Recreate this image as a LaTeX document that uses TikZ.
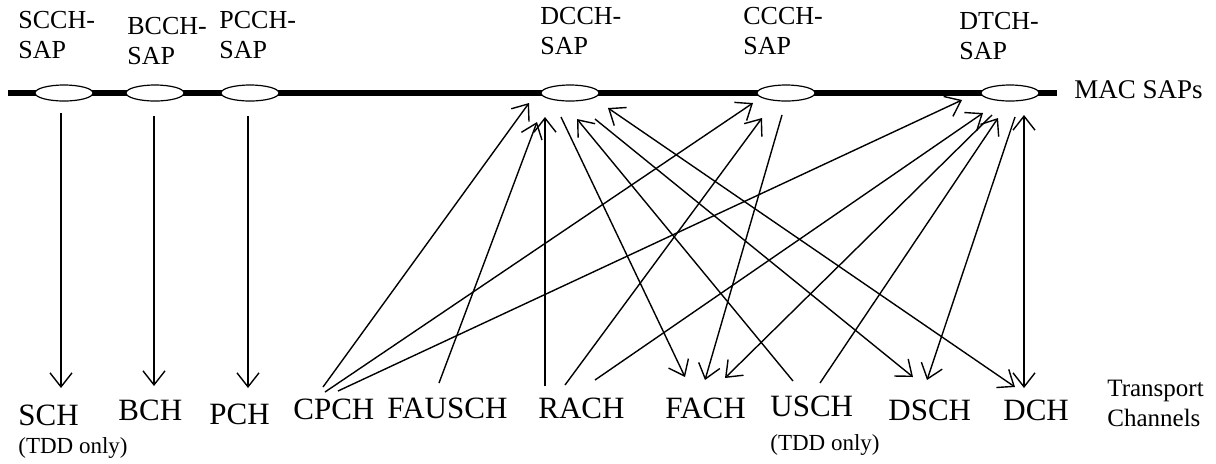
\documentclass[tikz,border=0pt]{standalone}
\usepackage{fontspec}
\setmainfont{Liberation Serif}
\usetikzlibrary{arrows.meta,shapes.geometric}
\begin{document}
\begin{tikzpicture}[x=0.5pt,y=-0.5pt,
  sap/.style={ellipse, draw, fill=white, line width=0.6pt, minimum width=29pt, minimum height=8pt, inner sep=0pt},
  conn/.style={line width=0.7pt, -{Straight Barb[length=7pt,width=11pt]}},
  biconn/.style={line width=0.7pt, {Straight Barb[length=7pt,width=11pt]}-{Straight Barb[length=7pt,width=11pt]}},
  saplab/.style={font=\fontsize{13}{15}\selectfont, align=left, anchor=north west, inner sep=0pt},
  chlab/.style={font=\fontsize{15.5}{18}\selectfont, anchor=base west, inner sep=0pt},
  notelab/.style={font=\fontsize{11.5}{14}\selectfont, anchor=base west, inner sep=0pt}]
\useasboundingbox (0,0) rectangle (1216,463);

% MAC SAP bus
\coordinate (busL) at (8,93);
\coordinate (busR) at (1057,93);
\draw[line width=2.6pt] (busL) -- (busR);

\node[sap] (scch) at (64,93) {};
\node[sap] (bcch) at (155,93) {};
\node[sap] (pcch) at (250,93) {};
\node[sap] (dcch) at (570,93) {};
\node[sap] (ccch) at (786,93) {};
\node[sap] (dtch) at (1010,93) {};

% SAP labels
\node[saplab] (scchl) at (18,11) {SCCH-\\SAP};
\node[saplab] (bcchl) at (127,17) {BCCH-\\SAP};
\node[saplab] (pcchl) at (219,11) {PCCH-\\SAP};
\node[saplab] (dcchl) at (540,7) {DCCH-\\SAP};
\node[saplab] (ccchl) at (743,7) {CCCH-\\SAP};
\node[saplab] (dtchl) at (959,12) {DTCH-\\SAP};
\node[font=\fontsize{13.5}{16}\selectfont, anchor=base west, inner sep=0pt] (macsaps) at (1074,98) {MAC SAPs};

% transport channel labels
\node[chlab] (sch) at (18,425) {SCH};
\node[notelab] (schnote) at (18,453) {(TDD only)};
\node[chlab] (bch) at (118,420) {BCH};
\node[chlab] (pch) at (209,424) {PCH};
\node[chlab] (cpch) at (293,419) {CPCH};
\node[chlab] (fausch) at (387,418) {FAUSCH};
\node[chlab] (rach) at (538,418) {RACH};
\node[chlab] (fach) at (665,418) {FACH};
\node[chlab] (usch) at (770,416) {USCH};
\node[notelab] (uschnote) at (770,450) {(TDD only)};
\node[chlab] (dsch) at (888,420) {DSCH};
\node[chlab] (dch) at (1003,420) {DCH};
\node[font=\fontsize{12.5}{15}\selectfont, align=left, anchor=north west, inner sep=0pt] (tc) at (1107,380) {Transport\\Channels};

% connector end points at the SAPs
\coordinate (scch-o) at (61,113);
\coordinate (bcch-o) at (154,116);
\coordinate (pcch-o) at (248,116);
\coordinate (dcch-a) at (529,103);
\coordinate (dcch-b) at (537,122);
\coordinate (dcch-c) at (545,117);
\coordinate (dcch-d) at (561,117);
\coordinate (dcch-e) at (577,119);
\coordinate (dcch-f) at (595,119);
\coordinate (dcch-g) at (608,108);
\coordinate (ccch-a) at (753,103);
\coordinate (ccch-b) at (762,118);
\coordinate (ccch-c) at (782,115);
\coordinate (dtch-a) at (962,100);
\coordinate (dtch-b) at (983,113);
\coordinate (dtch-c) at (992,115);
\coordinate (dtch-d) at (998,118);
\coordinate (dtch-e) at (1015,117);
\coordinate (dtch-f) at (1024,115);

% connector end points at the transport channels
\coordinate (sch-i) at (61,388);
\coordinate (bch-i) at (154,386);
\coordinate (pch-i) at (248,388);
\coordinate (cpch-a) at (323,387);
\coordinate (cpch-b) at (325,392);
\coordinate (cpch-c) at (338,391);
\coordinate (fausch-a) at (439,383);
\coordinate (rach-a) at (545,386);
\coordinate (rach-b) at (565,385);
\coordinate (rach-c) at (595,380);
\coordinate (fach-a) at (685,377);
\coordinate (fach-b) at (705,380);
\coordinate (fach-c) at (725,378);
\coordinate (usch-a) at (793,381);
\coordinate (usch-b) at (820,383);
\coordinate (dsch-a) at (913,377);
\coordinate (dsch-b) at (927,380);
\coordinate (dch-a) at (1015,387);
\coordinate (dch-b) at (1024,388);

% downlink-only SAPs
\draw[conn] (scch-o) -- (sch-i);
\draw[conn] (bcch-o) -- (bch-i);
\draw[conn] (pcch-o) -- (pch-i);

% DCCH
\draw[conn] (cpch-a) -- (dcch-a);
\draw[conn] (fausch-a) -- (dcch-b);
\draw[conn] (rach-a) -- (dcch-c);
\draw[conn] (dcch-d) -- (fach-a);
\draw[conn] (usch-a) -- (dcch-e);
\draw[conn] (dcch-f) -- (dsch-a);
\draw[biconn] (dch-a) -- (dcch-g);

% CCCH
\draw[conn] (cpch-b) -- (ccch-a);
\draw[conn] (rach-b) -- (ccch-b);
\draw[conn] (ccch-c) -- (fach-b);

% DTCH
\draw[conn] (cpch-c) -- (dtch-a);
\draw[conn] (rach-c) -- (dtch-b);
\draw[conn] (dtch-c) -- (fach-c);
\draw[conn] (usch-b) -- (dtch-d);
\draw[conn] (dtch-e) -- (dsch-b);
\draw[biconn] (dch-b) -- (dtch-f);
\end{tikzpicture}
\end{document}
